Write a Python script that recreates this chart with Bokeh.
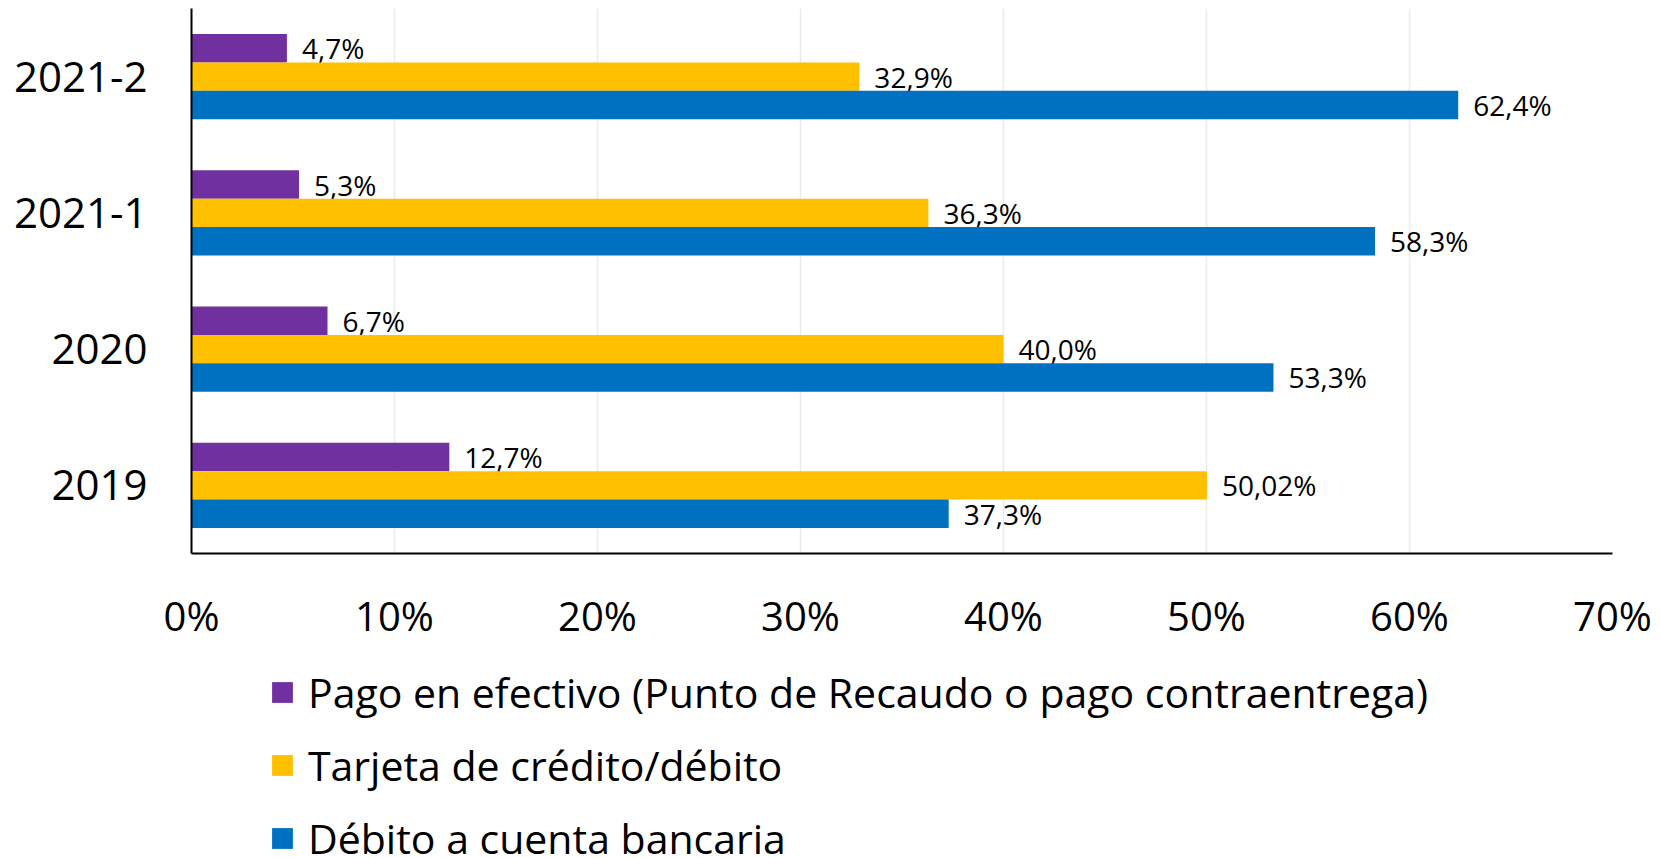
from bokeh.plotting import figure
from bokeh.layouts import column
from bokeh.models import ColumnDataSource, FixedTicker, PrintfTickFormatter, Legend, LegendItem, Range1d
from bokeh.transform import dodge
from bokeh.embed import file_html
from bokeh.resources import INLINE

categories = ["2019", "2020", "2021-1", "2021-2"]
efectivo = [12.7, 6.7, 5.3, 4.7]
tarjeta = [50.02, 40.0, 36.3, 32.9]
debito = [37.3, 53.3, 58.3, 62.4]
series_names = ["Pago en efectivo (Punto de Recaudo o pago contraentrega)",
                "Tarjeta de crédito/débito",
                "Débito a cuenta bancaria"]
colors = ["#7030A0", "#FFC000", "#0070C0"]
x_ticks = [0, 10, 20, 30, 40, 50, 60, 70]

FONT = "Open Sans"

def fmt(v):
    return str(v).replace(".", ",") + "%"

src = ColumnDataSource(dict(
    cat=categories,
    efectivo=efectivo, tarjeta=tarjeta, debito=debito,
    l_efectivo=[fmt(v) for v in efectivo],
    l_tarjeta=[fmt(v) for v in tarjeta],
    l_debito=[fmt(v) for v in debito],
))

p = figure(y_range=categories, x_range=(0, 70),
           output_backend="svg", toolbar_location=None,
           min_border_left=191, min_border_top=8, min_border_right=40, min_border_bottom=100)
p.frame_height = 545
p.frame_width = 1421

bh = 0.208
offsets = [bh, 0.0, -bh]
keys = ["efectivo", "tarjeta", "debito"]
for k, off, c in zip(keys, offsets, colors):
    p.hbar(y=dodge("cat", off, range=p.y_range), right=k, left=0, height=bh,
           source=src, fill_color=c, line_color=None)
    p.text(x=k, y=dodge("cat", off, range=p.y_range), text="l_" + k, source=src,
           x_offset=15, text_baseline="middle", text_align="left",
           text_font_size="28px", text_color="#000000",
           text_font={"value": FONT})

p.outline_line_color = None
p.background_fill_color = "white"
p.border_fill_color = "white"

p.xgrid.grid_line_color = "#ebebeb"
p.xgrid.grid_line_width = 1.5
p.ygrid.grid_line_color = None

p.xaxis.ticker = FixedTicker(ticks=x_ticks)
p.xaxis.formatter = PrintfTickFormatter(format="%d%%")
p.xaxis.major_tick_line_color = None
p.xaxis.minor_tick_line_color = None
p.xaxis.axis_line_color = "black"
p.xaxis.axis_line_width = 2
p.xaxis.major_label_text_font = FONT
p.xaxis.major_label_text_font_size = "40px"
p.xaxis.major_label_text_color = "black"
p.xaxis.major_label_standoff = 28

p.yaxis.major_tick_line_color = None
p.yaxis.minor_tick_line_color = None
p.yaxis.axis_line_color = "black"
p.yaxis.axis_line_width = 2
p.yaxis.major_label_text_font = FONT
p.yaxis.major_label_text_font_size = "42px"
p.yaxis.major_label_text_color = "black"
p.yaxis.major_label_standoff = 38

# legend in its own strip below the chart
lg = figure(width=1652, height=205, x_range=Range1d(0, 1), y_range=Range1d(0, 1),
            output_backend="svg", toolbar_location=None, min_border=0)
lg.axis.visible = False
lg.grid.grid_line_color = None
lg.outline_line_color = None
lg.border_fill_color = "white"
leg_renderers = [lg.hbar(y=[-5], right=[0], left=[0], height=0.1, fill_color=c, line_color=None)
                 for c in colors]
legend = Legend(items=[LegendItem(label=n, renderers=[r]) for n, r in zip(series_names, leg_renderers)],
                orientation="vertical", location=(78, -8),
                label_text_font=FONT, label_text_font_size="41px", label_text_color="black",
                glyph_width=26, glyph_height=26, label_standoff=13,
                spacing=17, padding=0, margin=0,
                border_line_color=None, background_fill_alpha=0)
lg.add_layout(legend, "center")

layout = column(p, lg, spacing=0)
open("out.html", "w").write(file_html(layout, INLINE))
